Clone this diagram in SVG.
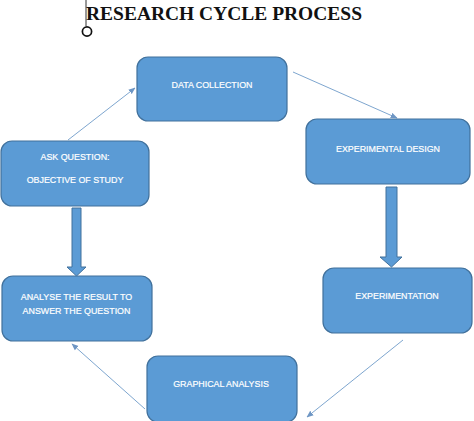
<svg xmlns="http://www.w3.org/2000/svg" width="474" height="421" viewBox="0 0 474 421">
<defs>
<style>
.box{fill:#5B9BD5;stroke:#41719C;stroke-width:1.2}
.lbl{fill:#FFFFFF;stroke:#FFFFFF;stroke-width:0.2;font-family:"Liberation Sans",Arial,sans-serif;font-size:8.9px;text-anchor:middle;dominant-baseline:central}
.thin{stroke:#7EA6CF;stroke-width:1;fill:none;marker-end:url(#ah)}
.fat{fill:#5B9BD5;stroke:#41719C;stroke-width:1}
.title{font-family:"Liberation Serif","Times New Roman",serif;font-weight:bold;font-size:19.5px;fill:#111}
</style>
<marker id="ah" viewBox="0 0 10 10" refX="9" refY="5" markerWidth="7" markerHeight="7" orient="auto" markerUnits="userSpaceOnUse">
<path d="M0,1 L10,5 L0,9 Z" fill="#6E96C4"/>
</marker>
</defs>
<rect width="474" height="421" fill="#FFFFFF"/>
<g id="title">
<line x1="86" y1="0" x2="86" y2="26" stroke="#333" stroke-width="1"/>
<circle cx="87" cy="31.5" r="4.6" fill="none" stroke="#111" stroke-width="1.7"/>
<text class="title" x="86" y="20" textLength="276" lengthAdjust="spacingAndGlyphs">RESEARCH CYCLE PROCESS</text>
</g>
<g id="connectors">
<line class="thin" x1="68" y1="140" x2="135" y2="88"/>
<line class="thin" x1="293" y1="72" x2="397" y2="118"/>
<line class="thin" x1="403" y1="340" x2="307" y2="417"/>
<line class="thin" x1="145" y1="409" x2="72" y2="344"/>
<path class="fat" d="M72,208 H81 V267 H86 L76.5,276 L67,267 H72 Z"/>
<path class="fat" d="M386,187 H397 V257 H402 L391.5,267 L380,257 H386 Z"/>
</g>
<g id="data-collection">
<rect class="box" x="137" y="57" width="150" height="64" rx="11"/>
<text class="lbl" x="212" y="85">DATA COLLECTION</text>
</g>
<g id="experimental-design">
<rect class="box" x="306" y="119" width="164" height="65" rx="11"/>
<text class="lbl" x="388" y="149">EXPERIMENTAL DESIGN</text>
</g>
<g id="experimentation">
<rect class="box" x="323" y="268" width="149" height="65" rx="11"/>
<text class="lbl" x="397" y="296">EXPERIMENTATION</text>
</g>
<g id="graphical-analysis">
<rect class="box" x="147" y="356" width="150" height="66" rx="11"/>
<text class="lbl" x="221" y="384">GRAPHICAL ANALYSIS</text>
</g>
<g id="analyse-result">
<rect class="box" x="2" y="276" width="150" height="65" rx="11"/>
<text class="lbl" x="76.5" y="297">ANALYSE THE RESULT TO</text>
<text class="lbl" x="76.5" y="311">ANSWER THE QUESTION</text>
</g>
<g id="ask-question">
<rect class="box" x="1" y="141" width="148" height="65" rx="11"/>
<text class="lbl" x="75" y="157">ASK QUESTION:</text>
<text class="lbl" x="75" y="180">OBJECTIVE OF STUDY</text>
</g>
</svg>
